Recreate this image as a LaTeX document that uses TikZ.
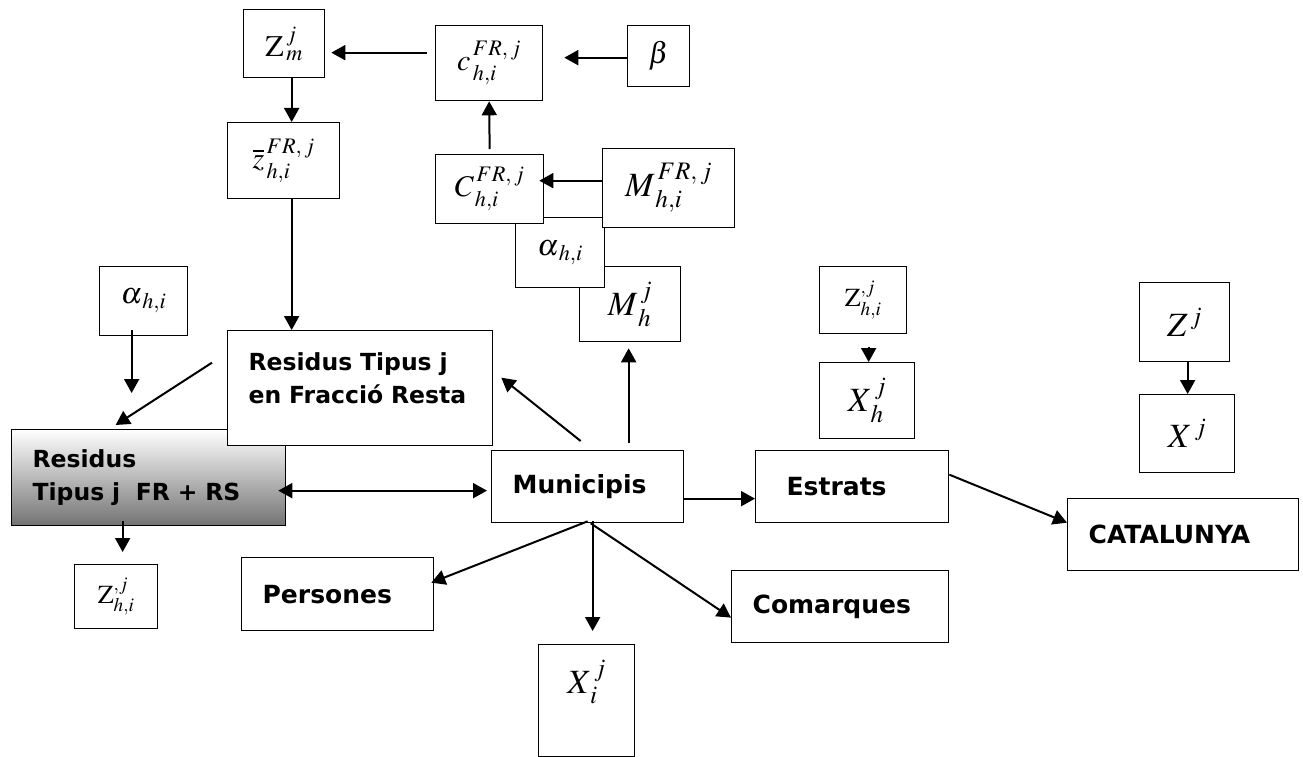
\RequirePackage{fix-cm}
\documentclass[tikz,border=0pt]{standalone}
\usepackage{mathptmx}
\usepackage{fontspec}
\newfontfamily\wordfont{DejaVu Sans}
\usetikzlibrary{arrows.meta}
\newcommand\wordsize{\fontsize{25}{33}\selectfont}
\newcommand\wordsmall{\fontsize{23.5}{33}\selectfont}
\newcommand\bigmath{\fontsize{34}{40}\selectfont}
\newcommand\midmath{\fontsize{30}{34}\selectfont}
\newcommand\smallmath{\fontsize{26}{30}\selectfont}

\begin{document}
\begin{tikzpicture}[
    x=1pt, y=-1pt,
    box/.style={draw, line width=1.3pt, fill=white, inner sep=0pt, anchor=north west},
    wh/.style 2 args={minimum width=#1pt, minimum height=#2pt},
    wbox/.style={box, font=\wordfont\bfseries\wordsize, align=left, inner xsep=21pt},
    conn/.style={->, line width=2pt},
    >={Triangle[length=14pt,width=15pt]},
  ]
  \useasboundingbox (0,0) rectangle (1303,757);

  \node[box, wh={81}{68}, font=\midmath] (zm) at (243,9) {$\mathrm{Z}_{\,m}^{\,j}$};
  \node[box, wh={112}{76}, font=\midmath] (zbar) at (227,122) {$\overline{z}^{\,FR,\,j}_{\,h,i}$};
  \node[box, wh={107}{75}, font=\midmath] (cfr) at (435,25) {$c^{\,FR,\,j}_{\,h,i}$};
  \node[box, wh={62}{61}, font=\midmath] (beta) at (627,25) {$\beta$};
  \node[box, wh={101}{75}, font=\bigmath] (mh) at (579,266) {$M_{\,h}^{\,j}$};
  \node[box, wh={89}{70}, font=\midmath] (alpham) at (515,217) {$\alpha_{\,h,i}$};
  \node[box, wh={108}{69}, font=\midmath] (cbig) at (435,154) {$C^{\,FR,\,j}_{\,h,i}$};
  \node[box, wh={132}{79}, font=\bigmath] (mfr) at (602,148) {$M^{\,FR,\,j}_{\,h,i}$};
  \node[box, wh={88}{69}, font=\midmath] (alphal) at (99,266) {$\alpha_{\,h,i}$};

  \node[wbox, wh={274}{96}, text width=232pt, font=\wordfont\bfseries\wordsmall,
        top color=white, bottom color=black!55] (resrs) at (11,429)
    {Residus\\Tipus j~ FR + RS};
  \node[wbox, text width=223pt, font=\wordfont\bfseries\wordsmall,
        inner ysep=0pt, text height=39.5pt, text depth=75.5pt] (resfr) at (227,330)
    {Residus Tipus j\\en Fracció Resta};
  \node[box, wh={83}{64}, font=\smallmath] (zl) at (74,564) {$\mathrm{Z}^{,j}_{h,i}$};
  \node[wbox, wh={192}{73}, text width=150pt] (pers) at (241,557) {Persones};
  \node[wbox, wh={192}{72}, text width=150pt] (muni) at (491,450) {Municipis};
  \node[wbox, wh={193}{72}, text width=131pt, inner xsep=31pt] (estr) at (755,450) {Estrats};
  \node[wbox, wh={217}{72}, text width=175pt] (comar) at (731,570) {Comarques};
  \node[box, minimum width=96pt, text height=49pt, text depth=63pt, font=\bigmath] (xi) at (538,644) {$X_{\,i}^{\,j}$};

  \node[box, wh={87}{67}, font=\smallmath] (zr) at (819,266) {$\mathrm{Z}^{,j}_{h,i}$};
  \node[box, wh={95}{76}, font=\bigmath] (xh) at (819,362) {$X_{\,h}^{\,j}$};
  \node[box, wh={90}{79}, font=\bigmath] (zj) at (1139,282) {$Z^{\,j}$};
  \node[box, wh={95}{78}, font=\bigmath] (xj) at (1139,394) {$X^{\,j}$};
  \node[wbox, wh={231}{72}, text width=189pt] (cat) at (1067,498) {CATALUNYA};

  \draw[conn] ([xshift=7.5pt]zm.south) -- ([xshift=8pt]zbar.north);
  \draw[conn] ([xshift=-8pt,yshift=10.5pt]cfr.west) -- ([xshift=6pt,yshift=-9pt]zm.east);
  \draw[conn] ([yshift=-1.5pt]beta.west) -- ([xshift=21pt,yshift=5.5pt]cfr.east);
  \draw[conn] ([yshift=5pt]cbig.north) -- (cfr.south);
  \draw[conn] ([yshift=7.5pt]mfr.west) -- ([xshift=-5pt,yshift=8.5pt]cbig.east);
  \draw[conn] ([xshift=8pt]zbar.south) -- ([xshift=8pt]zbar.south |- resfr.north);
  \draw[conn] ([xshift=-12pt,yshift=6pt]alphal.south) -- ([xshift=-17pt,yshift=36pt]resrs.north);
  \draw[conn] ([xshift=-15pt,yshift=25.5pt]resfr.west) -- ([xshift=-33pt,yshift=4pt]resrs.north);
  \draw[conn] ([xshift=-26pt,yshift=5pt]resrs.south) -- ([xshift=6.5pt,yshift=12pt]zl.north);
  \draw[<->, line width=2pt] ([xshift=-8pt,yshift=-13pt]resrs.east) -- ([xshift=-4pt,yshift=-4pt]muni.west);
  \draw[conn] ([xshift=41pt,yshift=7pt]muni.north) -- ([xshift=-1.5pt,yshift=-6pt]mh.south);
  \draw[conn] ([xshift=-7pt,yshift=9pt]muni.north) -- ([xshift=8pt,yshift=10.5pt]resfr.east);
  \draw[conn] ([yshift=2pt]muni.south) -- ([xshift=-3pt,yshift=11.5pt]pers.east);
  \draw[conn] ([xshift=5pt,yshift=2pt]muni.south) -- ([xshift=6pt,yshift=13pt]xi.north);
  \draw[conn] ([xshift=3pt]muni.south) -- ([yshift=-11pt]comar.west);
  \draw[conn] ([yshift=-12pt]muni.east) -- ([yshift=-12pt]estr.west);
  \draw[conn] ([yshift=12pt]estr.east) -- ([yshift=12pt]cat.west);
  \draw[conn] ([xshift=5.5pt,yshift=-13pt]zr.south) -- ([xshift=1.5pt]xh.north);
  \draw[conn] ([xshift=3pt]zj.south) -- ([xshift=0.5pt]xj.north);
\end{tikzpicture}
\end{document}
